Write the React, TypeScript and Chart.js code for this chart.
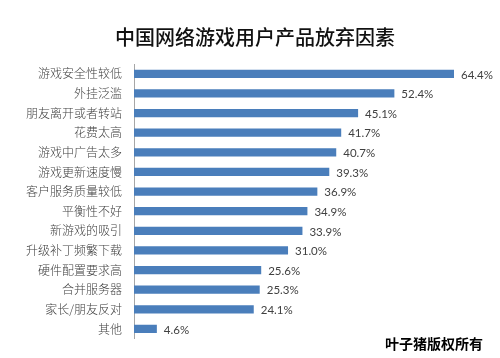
import React, { useEffect, useRef } from "react";
import { Chart, registerables } from "chart.js";

Chart.register(...registerables);

const TITLE = "中国网络游戏用户产品放弃因素";
const categories = [
  "游戏安全性较低",
  "外挂泛滥",
  "朋友离开或者转站",
  "花费太高",
  "游戏中广告太多",
  "游戏更新速度慢",
  "客户服务质量较低",
  "平衡性不好",
  "新游戏的吸引",
  "升级补丁频繁下载",
  "硬件配置要求高",
  "合并服务器",
  "家长/朋友反对",
  "其他",
];
const values = [64.4, 52.4, 45.1, 41.7, 40.7, 39.3, 36.9, 34.9, 33.9, 31.0, 25.6, 25.3, 24.1, 4.6];
const WATERMARK = "叶子猪版权所有";

const CJK = '"Noto Sans CJK SC", "Noto Sans", sans-serif';

export default function App() {
  const ref = useRef<HTMLCanvasElement>(null);
  useEffect(() => {
    document.body.style.margin = "0";
    const canvas = ref.current!;
    const labelPlugin = {
      id: "extras",
      afterDatasetsDraw(chart: any) {
        const ctx = chart.ctx;
        const meta = chart.getDatasetMeta(0);
        ctx.save();
        ctx.font = '11.5px Lato, "Open Sans", sans-serif';
        ctx.fillStyle = "#404040";
        ctx.textBaseline = "middle";
        ctx.textAlign = "left";
        meta.data.forEach((bar: any, i: number) => {
          ctx.fillText(values[i].toFixed(1) + "%", bar.x + 7, bar.y + 1);
        });
        ctx.restore();
      },
      afterDraw(chart: any) {
        const ctx = chart.ctx;
        ctx.save();
        ctx.font = "500 20px " + CJK;
        ctx.fillStyle = "#111";
        ctx.textAlign = "center";
        ctx.textBaseline = "middle";
        ctx.fillText(TITLE, 255, 37);
        ctx.font = "bold 14px " + CJK;
        ctx.fillStyle = "#000";
        ctx.textAlign = "left";
        ctx.fillText(WATERMARK, 385, 344);
        ctx.restore();
      },
    };
    const chart = new Chart(canvas, {
      type: "bar",
      data: {
        labels: categories,
        datasets: [
          {
            data: values,
            backgroundColor: "#4a7ebb",
            borderWidth: 0,
            categoryPercentage: 1,
            barPercentage: 0.42,
          },
        ],
      },
      options: {
        indexAxis: "y",
        responsive: false,
        animation: false,
        layout: { padding: { top: 64, bottom: 13, right: 46, left: 0 } },
        plugins: { legend: { display: false }, title: { display: false }, tooltip: { enabled: false } },
        scales: {
          x: { display: false, min: 0, max: 64.4 },
          y: {
            afterFit(scale: any) {
              scale.width = 134;
            },
            grid: { display: false, drawTicks: false },
            border: { display: true, color: "#a6a6a6", width: 1 },
            ticks: {
              padding: 12,
              color: "#404040",
              font: { family: CJK, size: 12, weight: "300" },
              autoSkip: false,
            },
          },
        },
      },
      plugins: [labelPlugin],
    } as any);
    return () => chart.destroy();
  }, []);
  return (
    <div style={{ width: 500, height: 358, background: "#fff" }}>
      <canvas ref={ref} width={500} height={358} />
    </div>
  );
}
